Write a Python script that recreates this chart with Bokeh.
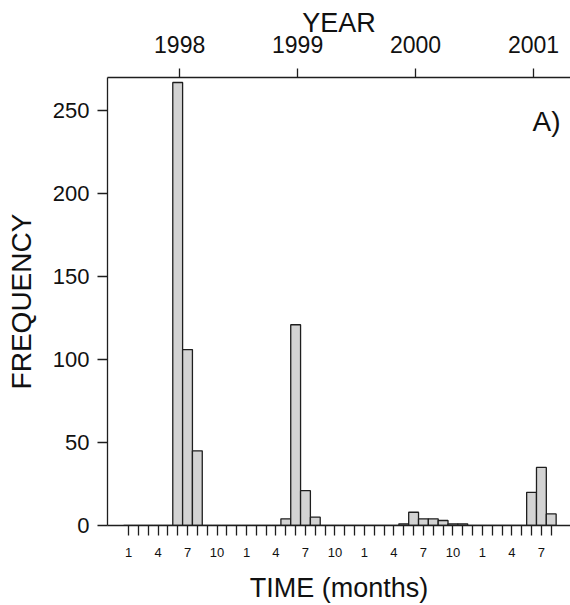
from bokeh.plotting import figure
from bokeh.models import Range1d, LinearAxis, FixedTicker, Label
from bokeh.embed import file_html
from bokeh.resources import INLINE

# ---- data ----
years = [1998] * 12 + [1999] * 12 + [2000] * 12 + [2001] * 8
months = list(range(1, 13)) * 3 + list(range(1, 9))
freq = [0, 0, 0, 0, 0, 267, 106, 45, 0, 0, 0, 0,
        0, 0, 0, 0, 4, 121, 21, 5, 0, 0, 0, 0,
        0, 0, 0, 0, 1, 8, 4, 4, 3, 1, 1, 0,
        0, 0, 0, 0, 0, 20, 35, 7]
year_labels = ["1998", "1999", "2000", "2001"]
year_ticks = [1998, 1999, 2000, 2001]
labelled_months = [1, 4, 7, 10]
y_ticks = [0, 50, 100, 150, 200, 250]

t = list(range(1, len(freq) + 1))  # month index on the time axis

FONT = "Liberation Sans"
DARK = "#1e1e1e"
TXT = "#111111"

x_lo, x_hi = -1.14, 45.96
y_lo, y_hi = 0, 270
year_off = 6.2  # month index where the year tick sits in the first year

p = figure(width=570, height=605,
           x_range=Range1d(x_lo, x_hi), y_range=Range1d(y_lo, y_hi),
           output_backend="svg", toolbar_location=None,
           x_axis_location=None, y_axis_location=None,
           min_border_left=107, min_border_right=0,
           min_border_top=77, min_border_bottom=79)
p.outline_line_color = None
p.grid.grid_line_color = None
p.background_fill_color = "white"
p.border_fill_color = "white"

p.extra_x_ranges = {"yr": Range1d(1998 + (x_lo - year_off) / 12.0,
                                  1998 + (x_hi - year_off) / 12.0)}

p.vbar(x=t, top=freq, bottom=0, width=1.0,
       fill_color="#d3d3d3", line_color=DARK, line_width=1.3)


def style(ax, lab_size, title_size):
    ax.axis_line_color = DARK
    ax.axis_line_width = 1.3
    ax.major_tick_line_color = DARK
    ax.major_tick_line_width = 1.3
    ax.minor_tick_line_color = None
    ax.major_tick_in = 0
    ax.major_label_text_font = FONT
    ax.major_label_text_font_size = lab_size
    ax.major_label_text_color = TXT
    ax.axis_label_text_font = FONT
    ax.axis_label_text_font_size = title_size
    ax.axis_label_text_font_style = "normal"
    ax.axis_label_text_color = TXT


# left axis
ly = LinearAxis(ticker=FixedTicker(ticks=y_ticks), axis_label="FREQUENCY")
style(ly, "22px", "28px")
ly.major_tick_out = 10
ly.major_label_standoff = 8
ly.axis_label_standoff = 13
p.add_layout(ly, "left")

# bottom axis (months)
bx = LinearAxis(ticker=FixedTicker(ticks=t), axis_label="TIME (months)")
bx.major_label_overrides = {ti: (str(m) if m in labelled_months else "")
                            for ti, m in zip(t, months)}
style(bx, "13px", "27px")
bx.major_tick_out = 10
bx.major_label_standoff = 12
bx.axis_label_standoff = 13
p.add_layout(bx, "below")

# top axis (years)
tx = LinearAxis(x_range_name="yr", ticker=FixedTicker(ticks=year_ticks),
                axis_label="YEAR")
tx.major_label_overrides = dict(zip(year_ticks, year_labels))
style(tx, "23px", "27px")
tx.major_tick_out = 9
tx.major_label_standoff = 16
tx.axis_label_standoff = -5
p.add_layout(tx, "above")

p.add_layout(Label(x=44.95, y=243.3, text="A)", text_align="right",
                   text_baseline="alphabetic", text_font=FONT,
                   text_font_size="28px", text_color=TXT))

open("out.html", "w").write(file_html(p, INLINE))
